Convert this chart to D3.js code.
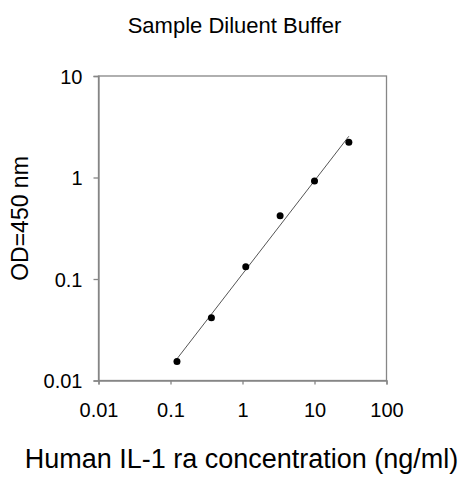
<!DOCTYPE html>
<html>
<head>
<meta charset="utf-8">
<script src="https://cdn.jsdelivr.net/npm/d3@7"></script>
<style>
  body { margin: 0; background: #fff; }
  text { font-family: Arial, "Liberation Sans", sans-serif; fill: #000; }
</style>
</head>
<body>
<svg width="463" height="480"></svg>
<script>
// concentration (ng/ml) and OD readings
var conc = [0.123, 0.37, 1.11, 3.33, 10, 30];
var od = [0.0154, 0.0414, 0.132, 0.42, 0.922, 2.23];
var xTicks = [0.01, 0.1, 1, 10, 100];
var yTicks = [0.01, 0.1, 1, 10];

var svg = d3.select("svg"),
    width = +svg.attr("width"),
    height = +svg.attr("height");

var plotL = 98.5, plotR = 386.5, plotT = 76, plotB = 380.5;

var x = d3.scaleLog().domain([0.01, 100]).range([plotL, plotR]);
var y = d3.scaleLog().domain([0.01, 10]).range([plotB, plotT]);

// plot frame
svg.append("rect")
   .attr("x", plotL).attr("y", plotT)
   .attr("width", plotR - plotL).attr("height", plotB - plotT)
   .attr("fill", "none")
   .attr("stroke", "#868686")
   .attr("stroke-width", 1.3);

var xAxis = svg.append("g")
   .attr("transform", "translate(0," + plotB + ")")
   .call(d3.axisBottom(x).tickValues(xTicks).tickSize(4).tickPadding(18)
           .tickFormat(function(d) { return String(d); }));

var yAxis = svg.append("g")
   .attr("transform", "translate(" + plotL + ",0)")
   .call(d3.axisLeft(y).tickValues(yTicks).tickSize(5).tickPadding(11)
           .tickFormat(function(d) { return String(d); }));

[xAxis, yAxis].forEach(function(a) {
    a.select(".domain").attr("stroke", "#868686").attr("stroke-width", 1.3);
    a.selectAll(".tick line").attr("stroke", "#868686").attr("stroke-width", 1.3);
    a.selectAll("text").attr("font-size", 20).attr("font-family", "Arial, 'Liberation Sans', sans-serif").attr("fill", "#000");
});
xAxis.selectAll("text").attr("dy", "0.71em");
yAxis.selectAll("text").attr("dy", "0.35em");

// least-squares fit in log-log space
var lx = conc.map(Math.log10), ly = od.map(Math.log10);
var mx = d3.mean(lx), my = d3.mean(ly);
var slope = d3.sum(lx, function(v, i) { return (v - mx) * (ly[i] - my); }) /
            d3.sum(lx, function(v) { return (v - mx) * (v - mx); });
var fit = function(c) { return Math.pow(10, my + slope * (Math.log10(c) - mx)); };
var ends = d3.extent(conc);

svg.append("path")
   .datum(ends)
   .attr("d", d3.line().x(function(d) { return x(d); }).y(function(d) { return y(fit(d)); }))
   .attr("stroke", "#555")
   .attr("stroke-width", 1)
   .attr("fill", "none");

svg.selectAll(".pt")
   .data(conc)
   .enter().append("circle")
   .attr("class", "pt")
   .attr("cx", function(d) { return x(d); })
   .attr("cy", function(d, i) { return y(od[i]); })
   .attr("r", 3.5)
   .attr("fill", "#000");

svg.append("text")
   .attr("x", 234.5).attr("y", 32.5)
   .attr("text-anchor", "middle")
   .attr("font-size", 22)
   .text("Sample Diluent Buffer");

svg.append("text")
   .attr("transform", "translate(28,218.5) rotate(-90)")
   .attr("text-anchor", "middle")
   .attr("font-size", 23)
   .text("OD=450 nm");

svg.append("text")
   .attr("x", 241.5).attr("y", 468)
   .attr("text-anchor", "middle")
   .attr("font-size", 27)
   .text("Human IL-1 ra concentration (ng/ml)");
</script>
</body>
</html>
